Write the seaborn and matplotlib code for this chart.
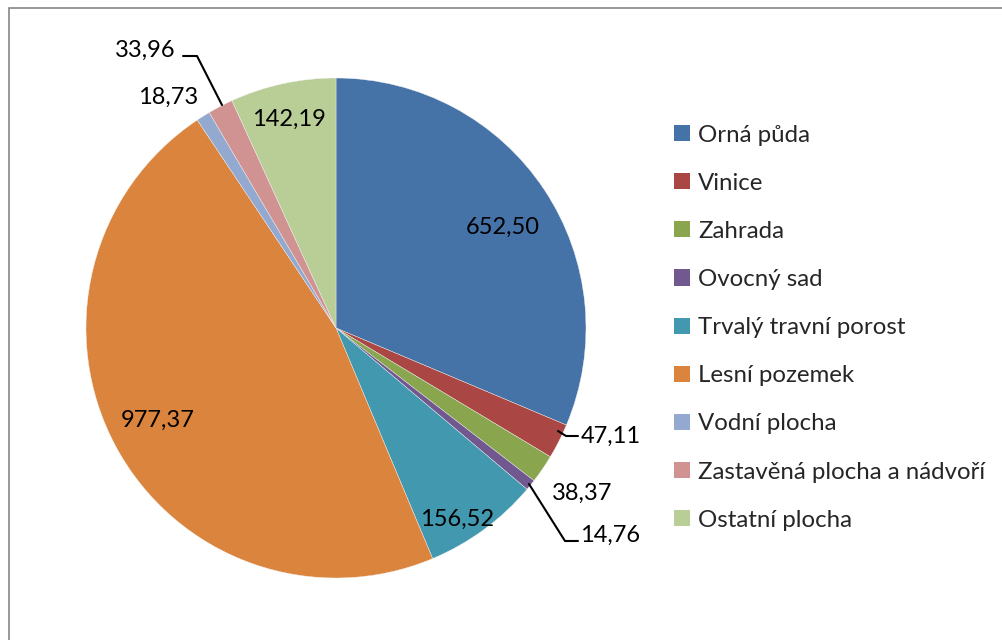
import matplotlib
matplotlib.use("Agg")
import matplotlib.pyplot as plt
from matplotlib.patches import Patch, Rectangle
from matplotlib.lines import Line2D
import seaborn as sns

categories = ["Orná půda", "Vinice", "Zahrada", "Ovocný sad", "Trvalý travní porost",
              "Lesní pozemek", "Vodní plocha", "Zastavěná plocha a nádvoří", "Ostatní plocha"]
values = [652.50, 47.11, 38.37, 14.76, 156.52, 977.37, 18.73, 33.96, 142.19]
value_labels = ["652,50", "47,11", "38,37", "14,76", "156,52", "977,37", "18,73", "33,96", "142,19"]
colors = ["#4572A7", "#AA4643", "#89A54E", "#71588F", "#4198AF",
          "#DB843D", "#93A9CF", "#D19392", "#B9CD96"]

sns.set_theme(style="white")
plt.rcParams['font.family'] = ['Lato', 'DejaVu Sans']

W, H = 1003, 640
fig = plt.figure(figsize=(W / 100, H / 100), dpi=100)
fig.patch.set_facecolor("white")

def fx(px):
    return px / W

def fy(py):
    return 1 - py / H

# chart frame
fig.add_artist(Rectangle((fx(9), fy(660)), fx(1100), 652 / H, transform=fig.transFigure,
                         fill=False, edgecolor="#868686", linewidth=1.2))

cx, cy, r = 336, 328, 250
ax = fig.add_axes([fx(cx - r), fy(cy + r), 2 * r / W, 2 * r / H])
pal = sns.color_palette(colors)
ax.pie(values, colors=pal, startangle=90, counterclock=False, radius=1,
       wedgeprops=dict(linewidth=0.3, edgecolor="#f0f0f0"))
ax.set_xlim(-1, 1)
ax.set_ylim(-1, 1)
ax.set_aspect("auto")
ax.axis("off")

# data label positions (pixel, top-left origin)
label_pos = [(503, 227), (611, 436), (582, 493), (610, 535), (457, 519),
             (158, 420), (168, 97), (145, 50), (289, 119)]
fs = 17
for lab, (px, py) in zip(value_labels, label_pos):
    fig.text(fx(px), fy(py), lab, ha="center", va="center", fontsize=fs, color="black")

# leader lines
leaders = [
    [(558, 431), (566, 436), (578, 436)],
    [(529, 484), (565, 541), (578, 541)],
    [(222, 105), (197, 56), (183, 56)],
]
for pts in leaders:
    xs = [fx(p[0]) for p in pts]
    ys = [fy(p[1]) for p in pts]
    fig.add_artist(Line2D(xs, ys, transform=fig.transFigure, color="black", linewidth=1.5))

handles = [Patch(facecolor=c, edgecolor="none") for c in colors]
fig.legend(handles, categories, loc="upper left", bbox_to_anchor=(fx(674), fy(124.5)),
           frameon=False, fontsize=17.3, handlelength=0.65, handleheight=0.65,
           handletextpad=0.35, labelspacing=1.13, borderpad=0, borderaxespad=0)

fig.savefig("out.png", dpi=100)
